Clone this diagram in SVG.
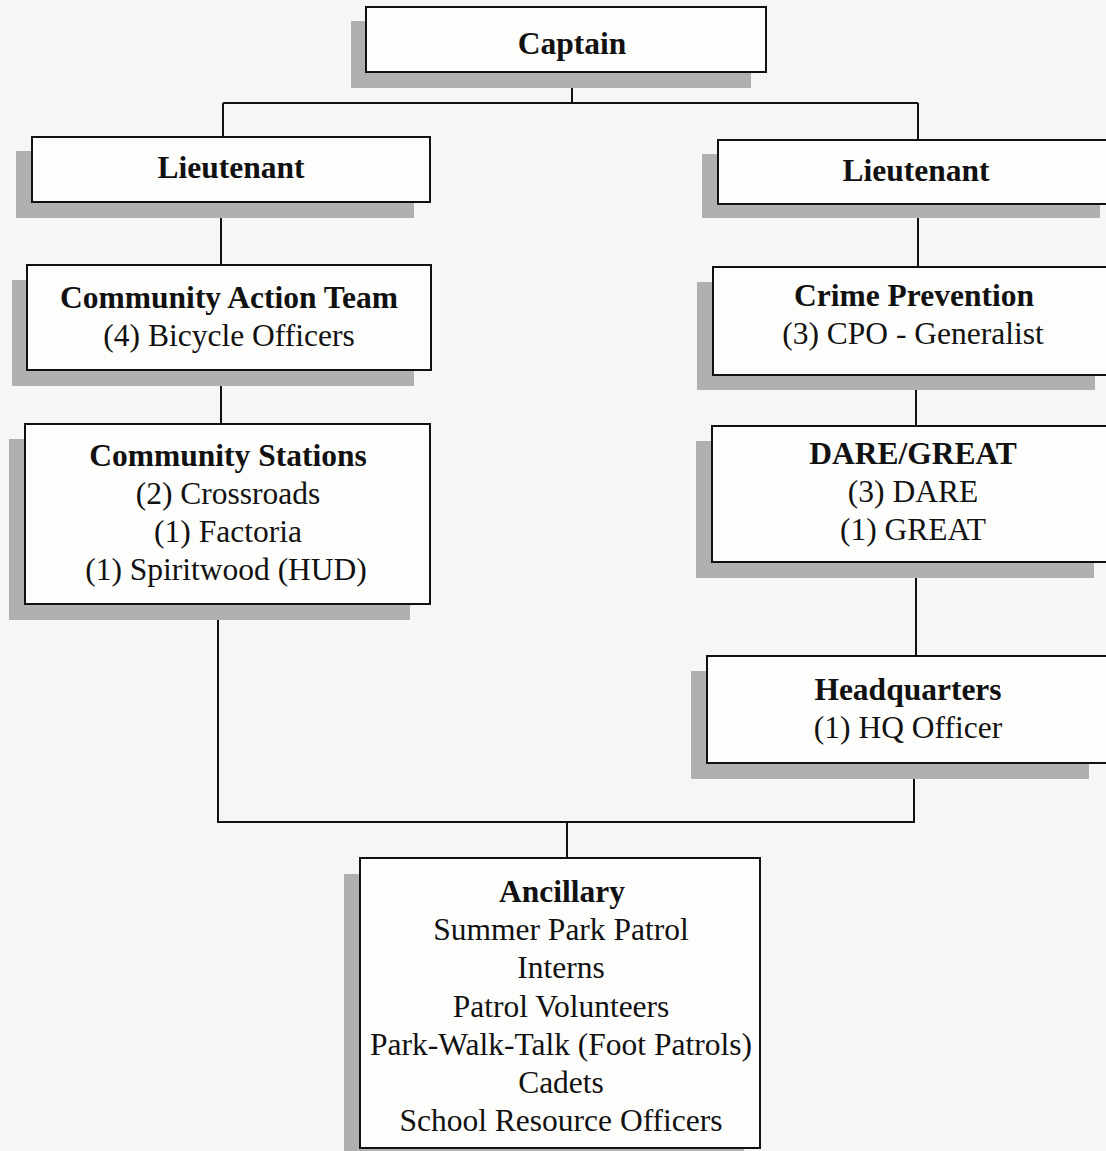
<svg xmlns="http://www.w3.org/2000/svg" width="1106" height="1151" viewBox="0 0 1106 1151">
<style>
.bg{fill:#f6f6f4}
.sh{fill:#b0b0b0}
.bx{fill:#fdfdfc;stroke:#111;stroke-width:2}
.ln{stroke:#111;stroke-width:2;fill:none}
text{font-family:"Liberation Serif","Times New Roman",serif;font-size:31.5px;fill:#111;text-anchor:middle}
.h{font-weight:bold;font-size:31.5px}
</style>
<rect class="bg" x="0" y="0" width="1106" height="1151"/>
<g id="connectors">
<path class="ln" d="M572 88V103M223 103H918M223 103V137M918 103V140"/>
<path class="ln" d="M221 218V265M221 386V424M218 620V822H914V779M567 822V858"/>
<path class="ln" d="M918 218V267M916 390V426M916 578V656"/>
</g>
<g id="captain">
<rect class="sh" x="351" y="21" width="400" height="67"/>
<rect class="bx" x="366" y="7" width="400" height="65"/>
<text class="h" x="572" y="54">Captain</text>
</g>
<g id="lieutenant-left">
<rect class="sh" x="16" y="151" width="398" height="67"/>
<rect class="bx" x="32" y="137" width="398" height="65"/>
<text class="h" x="231" y="178">Lieutenant</text>
</g>
<g id="lieutenant-right">
<rect class="sh" x="702" y="154" width="398" height="64"/>
<rect class="bx" x="718" y="140" width="400" height="64"/>
<text class="h" x="916" y="181">Lieutenant</text>
</g>
<g id="community-action-team">
<rect class="sh" x="12" y="280" width="402" height="106"/>
<rect class="bx" x="27" y="265" width="404" height="105"/>
<text class="h" x="229" y="308">Community Action Team</text>
<text x="229" y="346">(4) Bicycle Officers</text>
</g>
<g id="community-stations">
<rect class="sh" x="9" y="439" width="401" height="181"/>
<rect class="bx" x="25" y="424" width="405" height="180"/>
<text class="h" x="228" y="466">Community Stations</text>
<text x="228" y="504">(2) Crossroads</text>
<text x="228" y="542">(1) Factoria</text>
<text x="226" y="580">(1) Spiritwood (HUD)</text>
</g>
<g id="crime-prevention">
<rect class="sh" x="697" y="282" width="398" height="108"/>
<rect class="bx" x="713" y="267" width="405" height="108"/>
<text class="h" x="914" y="306">Crime Prevention</text>
<text x="913" y="344">(3) CPO - Generalist</text>
</g>
<g id="dare-great">
<rect class="sh" x="696" y="441" width="398" height="137"/>
<rect class="bx" x="712" y="426" width="406" height="136"/>
<text class="h" x="913" y="464">DARE/GREAT</text>
<text x="913" y="502">(3) DARE</text>
<text x="913" y="540">(1) GREAT</text>
</g>
<g id="headquarters">
<rect class="sh" x="691" y="671" width="398" height="108"/>
<rect class="bx" x="707" y="656" width="411" height="107"/>
<text class="h" x="908" y="700">Headquarters</text>
<text x="908" y="738">(1) HQ Officer</text>
</g>
<g id="ancillary">
<rect class="sh" x="344" y="874" width="400" height="290"/>
<rect class="bx" x="360" y="858" width="400" height="290"/>
<text class="h" x="562" y="902">Ancillary</text>
<text x="561" y="940">Summer Park Patrol</text>
<text x="561" y="978">Interns</text>
<text x="561" y="1017">Patrol Volunteers</text>
<text x="561" y="1055">Park-Walk-Talk (Foot Patrols)</text>
<text x="561" y="1093">Cadets</text>
<text x="561" y="1131">School Resource Officers</text>
</g>
</svg>
